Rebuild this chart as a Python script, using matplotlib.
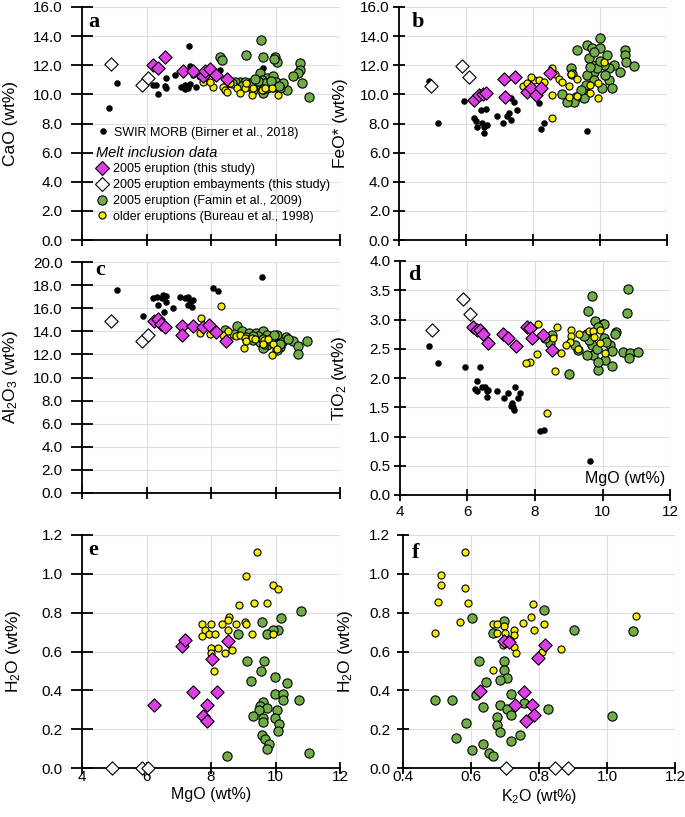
import matplotlib
matplotlib.use('Agg')
import matplotlib.pyplot as plt
from matplotlib.lines import Line2D

plt.rcParams['font.family'] = ['Liberation Sans', 'DejaVu Sans']
plt.rcParams['mathtext.default'] = 'regular'

# ---------------- Panel a: CaO vs MgO ----------------
a_swir_mgo = [4.85, 5.09, 6.21, 6.31, 6.37, 6.57, 6.60, 6.62, 6.88, 7.06, 7.19, 7.19, 7.30, 7.35, 7.32, 7.35, 7.45, 7.55, 8.28, 9.62]
a_swir_cao = [9.05, 10.76, 10.65, 10.65, 10.03, 10.60, 10.47, 11.12, 11.30, 10.49, 10.65, 10.37, 10.42, 10.71, 13.35, 11.95, 11.33, 10.49, 11.68, 11.82]
a_mi_mgo = [6.19, 6.37, 6.57, 7.12, 7.45, 7.74, 7.81, 7.97, 8.16, 8.49]
a_mi_cao = [12.00, 11.78, 12.58, 11.62, 11.58, 11.25, 11.58, 11.75, 11.30, 11.05]
a_emb_mgo = [4.90, 5.85, 6.05]
a_emb_cao = [12.07, 10.62, 11.12]
a_famin_mgo = [8.28, 8.33, 9.10, 9.55, 9.62, 9.98, 10.04, 9.95, 10.76, 10.76, 10.71, 10.81, 11.04, 10.55, 10.35,
               9.52, 9.73, 9.93, 10.03, 10.24, 10.14, 9.73, 9.62, 9.41, 9.21, 8.90, 8.73, 8.54, 9.31, 9.93,
               9.82, 9.58, 9.68, 9.45, 9.85, 9.05, 9.60, 10.10, 8.65, 9.35, 8.95]
a_famin_cao = [12.59, 12.36, 12.70, 13.74, 12.59, 12.59, 12.25, 12.40, 12.13, 11.68, 11.45, 10.80, 9.85, 11.23, 10.30,
               11.45, 11.10, 11.23, 10.88, 10.81, 10.42, 10.42, 10.08, 10.65, 10.76, 10.88, 10.88, 10.88, 10.30, 10.53,
               10.76, 11.00, 10.76, 10.95, 10.95, 10.85, 10.35, 10.60, 10.75, 11.05, 10.60]
a_bureau_mgo = [7.76, 8.07, 8.38, 8.43, 8.59, 8.80, 9.05, 8.90, 9.26, 9.31, 9.10, 9.57, 9.88, 10.09, 7.66, 7.97, 8.49, 9.67]
a_bureau_cao = [10.88, 10.53, 10.53, 10.30, 10.76, 10.42, 10.42, 10.08, 9.96, 10.42, 10.76, 10.30, 10.42, 9.96, 11.23, 10.88, 10.19, 10.42]

# ---------------- Panel b: FeO* vs MgO ----------------
b_swir_mgo = [4.90, 5.15, 5.94, 6.24, 6.34, 6.29, 6.49, 6.54, 6.64, 6.61, 6.44, 6.92, 7.09, 7.21, 7.33, 7.28, 7.43, 7.53, 7.33, 8.18, 8.33, 8.23, 9.62, 6.54]
b_swir_feo = [10.94, 8.01, 9.55, 8.36, 7.78, 8.19, 8.01, 7.33, 7.90, 9.00, 8.93, 8.52, 8.01, 8.52, 8.24, 8.70, 9.50, 8.93, 9.73, 9.43, 8.06, 7.60, 7.51, 7.78]
b_mi_mgo = [6.24, 6.39, 6.50, 6.59, 7.13, 7.45, 7.15, 7.81, 7.95, 8.08, 8.23, 8.50]
b_mi_feo = [9.62, 9.96, 10.00, 10.12, 11.04, 11.17, 9.84, 10.19, 10.42, 9.96, 10.42, 11.45]
b_emb_mgo = [4.97, 5.87, 6.09]
b_emb_feo = [10.58, 11.97, 11.22]
b_famin_mgo = [9.12, 9.30, 9.62, 9.76, 9.99, 9.99, 10.21, 10.76, 10.76, 10.79, 11.02, 10.59, 10.41, 10.26, 10.26,
               10.36, 10.06, 9.81, 9.76, 9.62, 9.57, 9.52, 9.52, 9.27, 9.22, 9.02, 8.87, 9.15, 9.81, 9.67,
               9.83, 10.11, 9.42, 10.16, 9.90, 10.00, 9.70]
b_famin_feo = [11.79, 13.05, 13.39, 13.16, 13.85, 13.16, 12.71, 13.05, 12.71, 12.25, 11.95, 11.56, 12.02, 11.79, 10.99,
               10.42, 10.42, 11.56, 12.02, 11.33, 10.65, 10.08, 9.73, 9.84, 9.50, 9.50, 10.03, 11.40, 10.99, 12.48,
               12.90, 12.02, 10.30, 11.33, 11.80, 12.30, 11.90]
b_bureau_mgo = [7.71, 7.83, 8.03, 8.18, 8.33, 8.57, 8.67, 8.77, 8.87, 9.07, 9.14, 9.30, 8.57, 8.57, 9.07, 9.32, 9.71, 9.71, 9.93, 9.93, 10.11, 7.93, 8.28]
b_bureau_feo = [10.58, 10.80, 10.99, 10.99, 10.88, 11.79, 11.40, 11.04, 10.88, 10.58, 11.40, 11.09, 9.96, 8.36, 9.84, 9.89, 10.08, 10.65, 10.80, 9.73, 12.20, 11.22, 10.35]

# ---------------- Panel c: Al2O3 vs MgO ----------------
c_swir_mgo = [6.21, 6.32, 6.47, 6.52, 6.62, 6.37, 6.59, 6.83, 6.55, 7.04, 7.19, 7.30, 7.35, 7.45, 7.30, 7.40, 8.07, 8.23, 9.57, 5.07, 5.90]
c_swir_al = [16.86, 17.00, 16.86, 17.14, 17.06, 16.28, 16.56, 15.99, 15.70, 17.00, 16.86, 17.00, 16.56, 16.71, 16.28, 16.14, 17.72, 17.52, 18.67, 17.57, 15.35]
c_mi_mgo = [6.24, 6.37, 6.45, 6.57, 7.09, 7.09, 7.43, 7.76, 7.93, 8.14, 8.46]
c_mi_al = [14.92, 15.05, 14.65, 14.38, 14.50, 13.65, 14.42, 14.35, 14.55, 13.97, 13.16]
c_emb_mgo = [4.90, 5.85, 6.04]
c_emb_al = [14.89, 13.19, 13.68]
c_famin_mgo = [8.82, 8.43, 8.95, 9.18, 9.42, 9.41, 9.62, 9.73, 10.04, 10.33, 10.55, 10.71, 10.99, 10.71, 9.31, 9.52,
               9.73, 9.98, 10.14, 9.88, 9.46, 9.62, 10.04, 9.10, 9.85, 10.20, 9.60, 10.40, 9.95, 9.30, 8.70, 10.15]
c_famin_al = [14.48, 14.11, 14.00, 13.86, 13.70, 13.83, 14.00, 13.70, 13.70, 13.53, 13.16, 12.76, 13.16, 12.01, 13.25, 13.10,
              12.81, 12.95, 12.67, 13.45, 13.60, 12.53, 12.38, 13.50, 13.20, 13.10, 13.35, 13.30, 13.65, 13.55, 13.80, 12.90]
c_bureau_mgo = [8.30, 7.69, 7.66, 7.97, 8.38, 8.54, 8.77, 8.90, 9.05, 9.03, 9.26, 9.65, 9.65, 9.78, 9.88, 9.93, 10.04, 9.62, 9.10, 9.35]
c_bureau_al = [16.19, 15.12, 13.82, 13.75, 13.70, 14.05, 13.60, 13.70, 13.39, 12.53, 13.45, 13.25, 12.80, 13.30, 11.95, 12.90, 12.47, 12.90, 13.20, 13.35]

# ---------------- Panel d: TiO2 vs MgO ----------------
d_swir_mgo = [4.87, 5.12, 5.93, 6.37, 6.27, 6.22, 6.27, 6.42, 6.52, 6.57, 6.57, 6.62, 6.88, 7.09, 7.21, 7.31, 7.36, 7.38, 7.41, 7.56, 7.51, 8.15, 8.27, 9.63, 7.28]
d_swir_ti = [2.54, 2.26, 2.19, 2.19, 1.95, 1.82, 1.77, 1.85, 1.85, 1.77, 1.67, 1.80, 1.78, 1.66, 1.74, 1.57, 1.50, 1.45, 1.85, 1.74, 1.66, 1.09, 1.11, 0.58, 1.52]
d_mi_mgo = [6.17, 6.27, 6.37, 6.45, 6.62, 7.06, 7.19, 7.45, 7.75, 7.85, 7.90, 8.23, 8.49]
d_mi_ti = [2.88, 2.82, 2.82, 2.75, 2.60, 2.76, 2.68, 2.55, 2.88, 2.85, 2.68, 2.74, 2.48]
d_emb_mgo = [4.96, 5.88, 6.07]
d_emb_ti = [2.82, 3.35, 3.09]
d_famin_mgo = [9.68, 9.58, 9.78, 10.00, 10.39, 10.77, 10.74, 8.49, 10.03, 9.53, 9.68, 10.03, 10.22, 10.37, 10.27, 10.60, 10.81, 11.06,
               10.79, 10.27, 9.88, 9.02, 9.73, 9.53, 10.07, 9.88, 9.28, 9.18, 8.44, 8.30, 9.88, 9.60, 9.85, 10.10, 9.45]
d_famin_ti = [3.40, 3.15, 2.97, 2.93, 2.79, 3.52, 3.11, 2.74, 2.93, 2.76, 2.56, 2.68, 2.56, 2.76, 2.47, 2.44, 2.42, 2.44,
              2.34, 2.21, 2.14, 2.06, 2.39, 2.40, 2.30, 2.28, 2.48, 2.56, 2.59, 2.68, 2.88, 2.65, 2.50, 2.62, 2.72]
d_bureau_mgo = [8.10, 8.66, 9.07, 9.07, 9.31, 9.61, 9.93, 9.93, 9.04, 8.92, 8.77, 9.27, 10.07, 8.05, 7.85, 7.72, 8.59, 8.35, 8.52, 9.73, 9.75]
d_bureau_ti = [2.93, 2.88, 2.82, 2.72, 2.76, 2.80, 2.82, 2.60, 2.61, 2.56, 2.42, 2.49, 2.42, 2.41, 2.28, 2.25, 2.12, 1.41, 2.68, 2.81, 2.70]

# ---------------- Panel e: H2O vs MgO ----------------
e_mi_mgo = [6.24, 7.09, 7.19, 7.43, 7.74, 7.89, 7.89, 8.04, 8.18, 8.52]
e_mi_h2o = [0.324, 0.63, 0.66, 0.39, 0.27, 0.324, 0.242, 0.561, 0.39, 0.654]
e_emb_mgo = [4.94, 5.85, 6.06]
e_emb_h2o = [0.0, 0.0, 0.0]
e_famin_mgo = [10.79, 9.57, 10.16, 10.09, 9.93, 9.73, 8.85, 9.13, 9.64, 9.54, 9.23, 9.98, 10.35, 9.98, 10.24, 10.24, 10.73,
               9.62, 9.52, 9.73, 10.04, 9.50, 9.29, 9.62, 9.98, 9.60, 10.12, 10.09, 9.57, 9.67, 9.81, 9.73, 8.49, 11.04]
e_famin_h2o = [0.81, 0.75, 0.77, 0.71, 0.71, 0.69, 0.69, 0.55, 0.55, 0.50, 0.45, 0.47, 0.44, 0.38, 0.38, 0.35, 0.35,
               0.34, 0.32, 0.31, 0.30, 0.30, 0.27, 0.26, 0.26, 0.235, 0.225, 0.19, 0.17, 0.15, 0.125, 0.096, 0.063, 0.075]
e_bureau_mgo = [9.43, 9.07, 9.91, 10.09, 8.88, 9.33, 9.75, 8.57, 8.53, 8.33, 8.78, 9.05, 9.10, 7.71, 8.00, 7.81, 7.95, 7.71,
                8.12, 8.52, 9.26, 9.93, 8.00, 8.23, 8.64, 8.00, 8.42, 8.10]
e_bureau_h2o = [1.11, 0.99, 0.94, 0.92, 0.84, 0.85, 0.85, 0.78, 0.76, 0.74, 0.74, 0.75, 0.74, 0.74, 0.74, 0.71, 0.69, 0.68,
                0.69, 0.71, 0.69, 0.69, 0.62, 0.62, 0.61, 0.59, 0.59, 0.50]

# ---------------- Panel f: H2O vs K2O ----------------
f_mi_k2o = [0.697, 0.712, 0.819, 0.798, 0.626, 0.755, 0.729, 0.778, 0.786, 0.763]
f_mi_h2o = [0.655, 0.650, 0.633, 0.564, 0.395, 0.391, 0.322, 0.322, 0.271, 0.240]
f_emb_k2o = [0.702, 0.847, 0.886]
f_emb_h2o = [0.0, 0.0, 0.0]
f_famin_k2o = [0.604, 0.696, 0.665, 0.814, 0.903, 1.075, 0.624, 0.696, 0.696, 0.706, 0.685, 0.643, 0.493, 0.545, 0.614, 0.636, 0.686,
               0.706, 0.717, 0.717, 0.755, 0.827, 0.675, 0.675, 0.685, 0.584, 0.555, 0.634, 0.604, 0.653, 0.665, 0.717, 0.743, 1.016]
f_famin_h2o = [0.774, 0.759, 0.697, 0.814, 0.710, 0.705, 0.552, 0.552, 0.503, 0.464, 0.455, 0.443, 0.352, 0.352, 0.374, 0.314, 0.322,
               0.302, 0.379, 0.271, 0.334, 0.302, 0.262, 0.222, 0.184, 0.233, 0.155, 0.124, 0.093, 0.076, 0.064, 0.141, 0.172, 0.266]
f_bureau_k2o = [0.582, 0.513, 0.513, 0.582, 0.503, 0.591, 0.567, 0.493, 0.665, 0.675, 0.696, 0.675, 0.699, 0.727, 0.727, 0.694,
                0.727, 0.732, 0.753, 0.775, 0.781, 0.786, 0.814, 0.810, 0.866, 1.085, 0.665, 0.714]
f_bureau_h2o = [1.112, 0.995, 0.943, 0.926, 0.853, 0.852, 0.752, 0.697, 0.741, 0.741, 0.733, 0.693, 0.693, 0.710, 0.684, 0.633,
                0.624, 0.593, 0.745, 0.776, 0.845, 0.710, 0.741, 0.595, 0.612, 0.783, 0.503, 0.659]

# ---------------- Labels ----------------
legend_labels = ['SWIR MORB (Birner et al., 2018)',
                 '2005 eruption (this study)',
                 '2005 eruption embayments (this study)',
                 '2005 eruption (Famin et al., 2009)',
                 'older eruptions (Bureau et al., 1998)']
legend_title = 'Melt inclusion data'
mgo_ticks = [4, 6, 8, 10, 12]
k2o_ticks = [0.4, 0.6, 0.8, 1.0, 1.2]

# ---------------- Styles ----------------
C_MI = '#dc3ee6'
C_EMB = '#faf5fa'
C_FAM = '#70ad47'
C_BUR = '#f5ee00'
S_SWIR, S_MI, S_FAM, S_BUR = 22, 46, 44, 26
EW = 0.8
TICK_FS = 11
YLAB_FS = 12.5
XLAB_FS = 11.5

W, H = 685, 817
fig = plt.figure(figsize=(W / 100, H / 100), dpi=100)


def add_axes(l, r, t, b):
    return fig.add_axes([l / W, 1 - b / H, (r - l) / W, (b - t) / H])


def plot_sets(ax, swir=None, mi=None, emb=None, fam=None, bur=None):
    if swir is not None:
        ax.scatter(*swir, s=S_SWIR, c='black', linewidths=0, zorder=3, clip_on=False)
    if fam is not None:
        ax.scatter(*fam, s=S_FAM, c=C_FAM, edgecolors='black', linewidths=EW, zorder=4, clip_on=False)
    if bur is not None:
        ax.scatter(*bur, s=S_BUR, c=C_BUR, edgecolors='black', linewidths=EW, zorder=5, clip_on=False)
    if mi is not None:
        ax.scatter(*mi, s=S_MI, marker='D', c=C_MI, edgecolors='black', linewidths=EW, zorder=6, clip_on=False)
    if emb is not None:
        ax.scatter(*emb, s=S_MI, marker='D', c=C_EMB, edgecolors='black', linewidths=EW, zorder=7, clip_on=False)


def style(ax, xlim, xticks, ylim, yticks, yfmt, ylen, ypad, xlabels=None, xpad=0):
    ax.set_xlim(xlim)
    ax.set_ylim(ylim)
    ax.set_xticks(xticks)
    ax.set_yticks(yticks)
    ax.set_yticklabels([yfmt.format(v) for v in yticks])
    if xlabels is None:
        ax.set_xticklabels([])
    else:
        ax.set_xticklabels(xlabels)
    for s in ['top', 'right']:
        ax.spines[s].set_visible(False)
    for s in ['left', 'bottom']:
        ax.spines[s].set_linewidth(1.3)
    ax.tick_params(axis='y', direction='inout', length=ylen, width=1.3, labelsize=TICK_FS, pad=ypad)
    ax.tick_params(axis='x', direction='inout', length=9, width=1.3, labelsize=TICK_FS, pad=xpad)
    ax.grid(True, color='#dedede', linewidth=0.8)
    ax.set_axisbelow(True)


def panel_letter(ax, letter, x, y):
    ax.text(x, y, letter, transform=ax.transAxes, ha='left', va='baseline',
            fontsize=16, fontweight='bold', family=['Liberation Serif', 'DejaVu Serif'])


ax_a = add_axes(82, 340, 7, 240)
ax_b = add_axes(399, 667, 7, 240)
ax_c = add_axes(82, 340, 262, 493)
ax_d = add_axes(400, 670, 261, 495)
ax_e = add_axes(82, 340, 535, 768)
ax_f = add_axes(403, 675, 535, 768)

yt16 = [0, 2, 4, 6, 8, 10, 12, 14, 16]
yt20 = [0, 2, 4, 6, 8, 10, 12, 14, 16, 18, 20]
yt4 = [0, 0.5, 1.0, 1.5, 2.0, 2.5, 3.0, 3.5, 4.0]
yt12 = [0, 0.2, 0.4, 0.6, 0.8, 1.0, 1.2]

# a
style(ax_a, (4, 12), mgo_ticks, (0, 16), yt16, '{:.1f}', 16, 6.0)
plot_sets(ax_a, (a_swir_mgo, a_swir_cao), (a_mi_mgo, a_mi_cao), (a_emb_mgo, a_emb_cao),
          (a_famin_mgo, a_famin_cao), (a_bureau_mgo, a_bureau_cao))
ax_a.set_ylabel('CaO (wt%)', fontsize=YLAB_FS)
ax_a.yaxis.set_label_coords(-0.250, 0.5)
panel_letter(ax_a, 'a', 0.025, 0.915)

h_swir = Line2D([], [], ls='none', marker='o', ms=S_SWIR ** 0.5, mfc='black', mec='black', mew=0)
h_mi = Line2D([], [], ls='none', marker='D', ms=S_MI ** 0.5, mfc=C_MI, mec='black', mew=EW)
h_emb = Line2D([], [], ls='none', marker='D', ms=S_MI ** 0.5, mfc=C_EMB, mec='black', mew=EW)
h_fam = Line2D([], [], ls='none', marker='o', ms=S_FAM ** 0.5, mfc=C_FAM, mec='black', mew=EW)
h_bur = Line2D([], [], ls='none', marker='o', ms=S_BUR ** 0.5, mfc=C_BUR, mec='black', mew=EW)

leg1 = ax_a.legend([h_swir], legend_labels[:1], loc='upper left', bbox_to_anchor=(0.057, 0.486),
                   frameon=False, fontsize=9, handlelength=1.0, handletextpad=0.35,
                   borderpad=0, borderaxespad=0)
ax_a.add_artist(leg1)
leg2 = ax_a.legend([h_mi, h_emb, h_fam, h_bur], legend_labels[1:], loc='upper left',
                   bbox_to_anchor=(0.054, 0.405), frameon=False, fontsize=9, handlelength=1.0,
                   handletextpad=0.35, borderpad=0, borderaxespad=0, labelspacing=0.3,
                   title=legend_title, title_fontproperties={'style': 'italic', 'size': 10.5},
                   alignment='left')

# b
style(ax_b, (4, 12), mgo_ticks, (0, 16), yt16, '{:.1f}', 8, 2.5)
plot_sets(ax_b, (b_swir_mgo, b_swir_feo), (b_mi_mgo, b_mi_feo), (b_emb_mgo, b_emb_feo),
          (b_famin_mgo, b_famin_feo), (b_bureau_mgo, b_bureau_feo))
ax_b.set_ylabel('FeO* (wt%)', fontsize=YLAB_FS)
ax_b.yaxis.set_label_coords(-0.19, 0.5)
panel_letter(ax_b, 'b', 0.049, 0.914)

# c
style(ax_c, (4, 12), mgo_ticks, (0, 20), yt20, '{:.1f}', 16, 6.0)
plot_sets(ax_c, (c_swir_mgo, c_swir_al), (c_mi_mgo, c_mi_al), (c_emb_mgo, c_emb_al),
          (c_famin_mgo, c_famin_al), (c_bureau_mgo, c_bureau_al))
ax_c.set_ylabel('Al$_2$O$_3$ (wt%)', fontsize=YLAB_FS)
ax_c.yaxis.set_label_coords(-0.240, 0.5)
panel_letter(ax_c, 'c', 0.05, 0.944)

# d
style(ax_d, (4, 12), mgo_ticks, (0, 4), yt4, '{:.1f}', 8, 3.0,
      xlabels=[str(v) for v in mgo_ticks], xpad=2.5)
plot_sets(ax_d, (d_swir_mgo, d_swir_ti), (d_mi_mgo, d_mi_ti), (d_emb_mgo, d_emb_ti),
          (d_famin_mgo, d_famin_ti), (d_bureau_mgo, d_bureau_ti))
ax_d.set_ylabel('TiO$_2$ (wt%)', fontsize=YLAB_FS)
ax_d.yaxis.set_label_coords(-0.189, 0.5)
panel_letter(ax_d, 'd', 0.03, 0.919)
ax_d.text(0.981, 0.051, 'MgO (wt%)', transform=ax_d.transAxes, ha='right', va='baseline', fontsize=XLAB_FS)

# e
style(ax_e, (4, 12), mgo_ticks, (0, 1.2), yt12, '{:.1f}', 16, 6.0,
      xlabels=[str(v) for v in mgo_ticks], xpad=-3)
plot_sets(ax_e, None, (e_mi_mgo, e_mi_h2o), (e_emb_mgo, e_emb_h2o),
          (e_famin_mgo, e_famin_h2o), (e_bureau_mgo, e_bureau_h2o))
ax_e.set_ylabel('H$_2$O (wt%)', fontsize=YLAB_FS)
ax_e.yaxis.set_label_coords(-0.229, 0.5)
ax_e.set_xlabel('MgO (wt%)', fontsize=XLAB_FS)
ax_e.xaxis.set_label_coords(0.5, -0.083)
panel_letter(ax_e, 'e', 0.025, 0.914)

# f
style(ax_f, (0.4, 1.2), k2o_ticks, (0, 1.2), yt12, '{:.1f}', 8, 5.0,
      xlabels=['{:.1f}'.format(v) for v in k2o_ticks], xpad=-3)
plot_sets(ax_f, None, (f_mi_k2o, f_mi_h2o), (f_emb_k2o, f_emb_h2o),
          (f_famin_k2o, f_famin_h2o), (f_bureau_k2o, f_bureau_h2o))
ax_f.set_ylabel('H$_2$O (wt%)', fontsize=YLAB_FS)
ax_f.yaxis.set_label_coords(-0.176, 0.5)
ax_f.set_xlabel('K$_2$O (wt%)', fontsize=XLAB_FS)
ax_f.xaxis.set_label_coords(0.5, -0.083)
panel_letter(ax_f, 'f', 0.033, 0.90)

fig.savefig('out.png', dpi=100)
